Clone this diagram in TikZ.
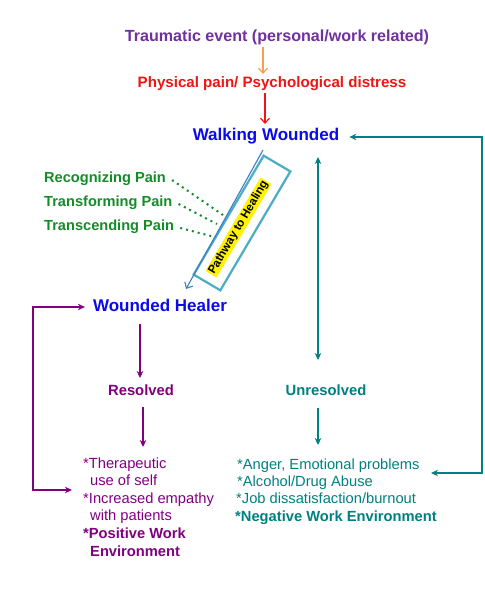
\documentclass[tikz,border=0pt]{standalone}
\usepackage{fontspec}
\setmainfont{Liberation Sans}
\usetikzlibrary{arrows.meta,calc}
\definecolor{cpurpleA}{RGB}{112,48,160}
\definecolor{cred}{RGB}{240,20,20}
\definecolor{corange}{RGB}{245,160,80}
\definecolor{cblue}{RGB}{10,10,235}
\definecolor{cgreen}{RGB}{20,140,40}
\definecolor{cbox}{RGB}{75,172,198}
\definecolor{carrowblue}{RGB}{60,125,200}
\definecolor{cpurpleB}{RGB}{128,0,128}
\definecolor{cteal}{RGB}{0,128,128}
\begin{document}
\begin{tikzpicture}[x=1pt,y=-1pt,
  lbl/.style={inner sep=0pt, text height=1.6ex, text depth=.3ex},
  bigb/.style={lbl, font=\fontsize{17}{19}\bfseries\selectfont, text=cblue},
  midb/.style={lbl, font=\fontsize{14.8}{16}\bfseries\selectfont},
  grn/.style={lbl, anchor=west, font=\fontsize{14.6}{16}\bfseries\selectfont, text=cgreen},
  lst/.style={lbl, anchor=west, font=\fontsize{14.7}{16}\selectfont},
  lstb/.style={lbl, anchor=west, font=\fontsize{14.7}{16}\bfseries\selectfont},
  vtip/.style={-{Straight Barb[length=5pt,width=9pt]}},
  stip/.style={-{Stealth[length=7pt,width=6.5pt]}},
  dstip/.style={{Stealth[length=7pt,width=6.5pt]}-{Stealth[length=7pt,width=6.5pt]}},
  dots/.style={cgreen, line width=2pt, dash pattern=on 2pt off 4pt}
]
\fill[white] (0,0) rectangle (485,595);
\useasboundingbox (0,0) rectangle (485,595);

% top chain
\node[midb, text=cpurpleA, font=\fontsize{16.1}{18}\bfseries\selectfont] (te) at (277,38) {Traumatic event (personal/work related)};
\node[midb, text=cred, font=\fontsize{15.1}{17}\bfseries\selectfont] (pp) at (272,84) {Physical pain/ Psychological distress};
\node[bigb] (ww) at (266,137) {Walking Wounded};
\draw[corange, line width=1.2pt, vtip] (te.south -| 263,0) ++(0,4) -- (263,74);
\draw[cred, line width=1.2pt, vtip] (pp.south -| 265,0) ++(0,4) -- (265,124);

% pathway box
\node[draw=cbox, line width=2.2pt, rotate=59.5, minimum width=138pt, minimum height=31pt, inner sep=0pt] (pbox) at (242,223) {};
\node[fill=yellow, rotate=59.5, inner sep=1pt, font=\fontsize{11.6}{13}\bfseries\selectfont] (ptxt) at (238.5,227.5) {Pathway to Healing};
\coordinate (pstart) at (263,150);
\coordinate (pend) at (186,289);
\draw[carrowblue, line width=1.1pt, vtip] (pstart) -- (pend);

% green labels
\node[grn] (rp) at (44,179) {Recognizing Pain};
\node[grn] (tfp) at (44,203) {Transforming Pain};
\node[grn] (tcp) at (44,227) {Transcending Pain};
\coordinate (rpe) at (223,215);
\coordinate (tfe) at (217,224);
\coordinate (tce) at (211,236);
\draw[dots] ($(rp.east)+(6,1)$) -- (rpe);
\draw[dots] ($(tfp.east)+(6,1)$) -- (tfe);
\draw[dots] ($(tcp.east)+(6,1)$) -- (tce);

% wounded healer branch
\node[bigb] (wh) at (160,308) {Wounded Healer};
\node[midb, text=cpurpleB] (res) at (141,392) {Resolved};
\draw[cpurpleB, line width=1.1pt, stip] (140,324) -- (140,378);
\draw[cpurpleB, line width=1.1pt, stip] (143,407) -- (143,447);
\node[lst, text=cpurpleB] (p1) at (83,465) {*Therapeutic};
\node[lst, text=cpurpleB] (p2) at (90,482) {use of self};
\node[lst, text=cpurpleB] (p3) at (83,500) {*Increased empathy};
\node[lst, text=cpurpleB] (p4) at (90,517) {with patients};
\node[lstb, text=cpurpleB] (p5) at (83,535) {*Positive Work};
\node[lstb, text=cpurpleB] (p6) at (90,553) {Environment};
\coordinate (lpa) at (72,490);
\draw[cpurpleB, line width=1.1pt, dstip] (lpa) -- (33,490) |- ($(wh.west)+(-8,-1)$);

% unresolved branch
\node[midb, text=cteal] (unr) at (326,392) {Unresolved};
\draw[cteal, line width=1.1pt, dstip] (318,157) -- (318,360);
\draw[cteal, line width=1.1pt, stip] (318,408) -- (318,445);
\node[lst, text=cteal] (t1) at (237,466) {*Anger, Emotional problems};
\node[lst, text=cteal] (t2) at (237,483) {*Alcohol/Drug Abuse};
\node[lst, text=cteal] (t3) at (236,500) {*Job dissatisfaction/burnout};
\node[lstb, text=cteal] (t4) at (235,518) {*Negative Work Environment};
\coordinate (rla) at (431,473);
\draw[cteal, line width=1.1pt, dstip] (rla) -- (482,473) |- ($(ww.east)+(10,0)$);
\end{tikzpicture}
\end{document}
